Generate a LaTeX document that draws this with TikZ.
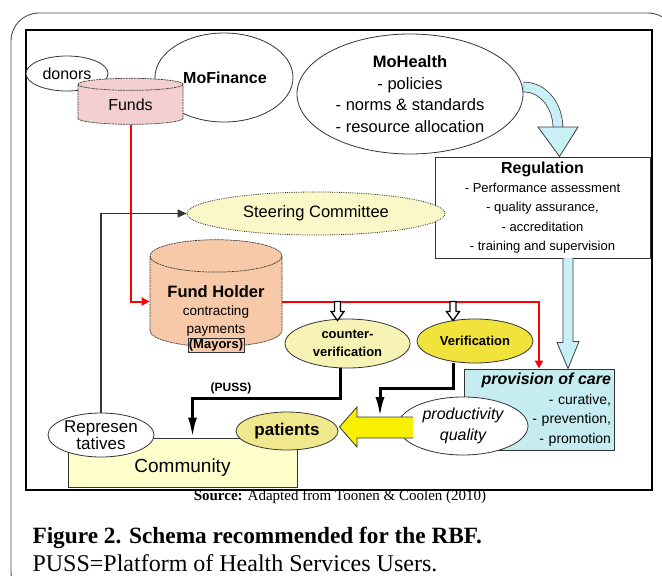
\documentclass[tikz,border=0pt]{standalone}
\usepackage{fontspec}
\setmainfont{Liberation Serif}
\setsansfont{Liberation Sans}
\renewcommand\familydefault{\sfdefault}
\usetikzlibrary{arrows.meta, positioning, shapes.geometric, calc}
\pgfdeclarelayer{back}
\pgfdeclarelayer{mid}
\pgfsetlayers{back,mid,main}
\definecolor{cFunds}{HTML}{F4CFCF}
\definecolor{cPeach}{HTML}{F7C9A9}
\definecolor{cSteer}{HTML}{FAF7C8}
\definecolor{cCheck}{HTML}{F7F3B5}
\definecolor{cVerif}{HTML}{F2E33C}
\definecolor{cPatient}{HTML}{EFE88C}
\definecolor{cComm}{HTML}{FFFFCC}
\definecolor{cProv}{HTML}{C5ECF0}
\definecolor{cCyan}{HTML}{C8F0F6}
\definecolor{cArrow}{HTML}{F8F000}
\newcommand\fsz[2]{\fontsize{#1}{#2}\selectfont}
\tikzset{
  oval/.style={ellipse, draw=black!80, fill=white, line width=0.8pt, inner sep=0pt, align=center},
  steeroval/.style={oval, fill=cSteer, densely dotted, font=\fsz{16.5}{18}},
  checkoval/.style={oval, fill=cCheck, font=\bfseries\fsz{13}{18}},
  can/.style={cylinder, shape border rotate=90, draw=black!75, dash pattern=on 2pt off 0.7pt,
    line width=0.7pt, inner sep=0pt, align=center},
  box/.style={rectangle, draw=black!80, line width=0.9pt, align=center, inner sep=0pt},
  redflow/.style={-{Triangle[length=8pt, width=8pt]}, draw=red, line width=2pt},
  darkflow/.style={-{Latex[length=20pt, width=9pt]}, line width=3pt, draw=black},
  thinflow/.style={-{Triangle[length=9pt, width=8pt]}, line width=1.2pt, draw=black!80},
  cyanblock/.style={fill=cCyan, draw=black!75, line width=0.8pt},
  yellowblock/.style={fill=cArrow, draw=black!80, line width=0.8pt},
  openarrow/.pic={
    \filldraw[fill=white, draw=black, line width=1.3pt]
      (-3,0) -- (-3,10) -- (-6.5,10) -- (0,19) -- (6.5,10) -- (3,10) -- (3,0) -- cycle;
  },
}

\begin{document}
\begin{tikzpicture}[x=1pt, y=-1pt]

  \useasboundingbox (0,0) rectangle (662,576);
  \clip (0,0) rectangle (662,576);
  \begin{pgfonlayer}{back}
    \fill[white] (0,0) rectangle (662,576);
    % frames
    \draw[line width=0.9pt, draw=black!70, rounded corners=28pt] (11,13) rectangle (676,600);
    \draw[line width=1.8pt] (26,30) rectangle (652,490);
  \end{pgfonlayer}

  % ----------------------------------------------------------------
  % ministries and funds
  % ----------------------------------------------------------------
  \node[oval, minimum width=82pt, minimum height=35pt, font=\fsz{16}{18}] (donors) at (67,73.5) {donors};
  \node[oval, minimum width=138pt, minimum height=89pt, font=\bfseries\fsz{16}{18}] (mofin) at (224,77.5) {\hspace*{2pt}MoFinance};
  \node[can, fill=cFunds, minimum width=105pt, minimum height=46pt, aspect=0.27,
    font=\fsz{16}{18}] (funds) at (130.5,104.5) {Funds};

  \node[oval, minimum width=226pt, minimum height=120pt, font=\fsz{16.5}{21.5}] (moh) at (410,94)
    {{\bfseries MoHealth}\\- policies\\- norms \& standards\\- resource allocation};
  \begin{pgfonlayer}{mid}
    \draw[double=cCyan, double distance=9pt, line width=0.8pt, draw=black!75]
      ($(moh.east)+(0,-7)$) to[out=0, in=90] (558,128);
  \end{pgfonlayer}

  % ----------------------------------------------------------------
  % regulation
  % ----------------------------------------------------------------
  \node[box, fill=white, minimum width=215pt, minimum height=101pt, font=\fsz{13}{19.2}] (reg) at (542.5,207.5)
    {{\bfseries\fsz{16}{19.2}Regulation}\\- Performance assessment\\- quality assurance,\\- accreditation\\- training and supervision};
  \filldraw[cyanblock] (538,127) -- (578,127) -- ($(reg.north)+(17,0)$) -- cycle;

  \node[steeroval, minimum width=258pt, minimum height=43pt] (steer) at (316,213.5) {Steering Committee};

  % ----------------------------------------------------------------
  % fund holder and verification
  % ----------------------------------------------------------------
  \node[can, fill=cPeach, minimum width=132pt, minimum height=107pt, aspect=0.33] (fh) at (216,301.5) {\hspace*{98pt}};
  \node[align=center, inner sep=0pt, font=\fsz{13.5}{18}] (fhtext) at (216,311)
    {{\bfseries\fsz{16.5}{20}Fund Holder}\\contracting\\payments};
  \node[box, fill=cPeach, line width=0.6pt, inner sep=1pt, font=\bfseries\fsz{13}{14}] (mayors) at (216,345.5) {(Mayors)};

  \node[checkoval, minimum width=125pt, minimum height=49pt] (cv) at (347.5,343.5) {counter-\\verification};
  \node[checkoval, fill=cVerif, minimum width=116pt, minimum height=44pt] (ver) at (475,341) {Verification};

  % ----------------------------------------------------------------
  % provision of care
  % ----------------------------------------------------------------
  \node[box, fill=cProv, minimum height=81pt, text width=144pt, inner xsep=3pt, align=right,
    font=\fsz{14}{19.5}] (prov) at (539,409.5)
    {{\bfseries\itshape\fsz{16}{19.5}provision of care}\\- curative,\\- prevention,\\- promotion};
  \filldraw[cyanblock] ($(reg.south)+(20.5,0)$) -- ++(0,84) -- ++(-6,0)
    -- ($(prov.north)+(29,0)$) -- ++(11,-27) -- ++(-6,0) -- ++(0,-84);

  \draw[redflow] (funds.south) |- (fh.west);
  \draw[redflow] (fh.east) -| (prov.north);
  \pic at ($(cv.north |- fh.east)+(-10,0)$) {openarrow};
  \pic at ($(ver.north |- fh.east)+(-22,0)$) {openarrow};

  \node[oval, minimum width=130pt, minimum height=58pt, font=\itshape\fsz{16}{21}] (prod) at (463,426) {productivity\\quality};

  % ----------------------------------------------------------------
  % community
  % ----------------------------------------------------------------
  \node[box, fill=cComm, minimum width=229pt, minimum height=49pt, text height=20pt, text depth=0pt,
    font=\fsz{19}{20}] (comm) at (182.5,462.5) {Community};
  \node[oval, minimum width=106pt, minimum height=44pt, font=\fsz{17}{17}] (repr) at (101,435) {Represen\\tatives};
  \node[oval, fill=cPatient, minimum width=102pt, minimum height=38pt, font=\bfseries\fsz{17}{18}] (pat) at (287,431) {patients};
  \begin{pgfonlayer}{mid}
    \draw[thinflow] (repr.north) |- (steer.west);
  \end{pgfonlayer}

  \coordinate (yarrow) at (380,417);
  \filldraw[yellowblock] (413,417) -- (357,417) -- (357,407) -- ($(pat.east)+(1,-4)$)
    -- (357,447) -- (357,438) -- (413,438);

  \draw[darkflow] ($(cv.south)+(-7,0)$) -- ++(0,30) -| ($(comm.north)+(10,0)$);
  \draw[darkflow] ($(ver.south)+(-22,0)$) -- ++(0,25) -| (yarrow);
  \node[font=\bfseries\fsz{12}{14}] (puss) at (231,388) {(PUSS)};

  % ----------------------------------------------------------------
  % source and caption
  % ----------------------------------------------------------------
  \node[font=\rmfamily\fsz{15}{16}] (src) at (340,497) {\textbf{Source:} Adapted from Toonen \& Coolen (2010)};
  \node[anchor=west, font=\rmfamily\bfseries\fsz{23.3}{25}] (fig) at (29,538) {Figure 2. Schema recommended for the RBF.};
  \node[anchor=west, font=\rmfamily\fsz{24}{25}] (note) at (29,563) {PUSS=Platform of Health Services Users.};

\end{tikzpicture}
\end{document}
